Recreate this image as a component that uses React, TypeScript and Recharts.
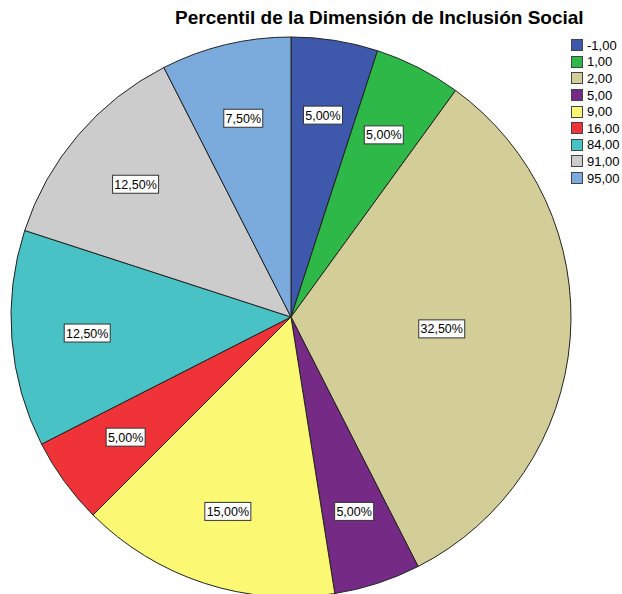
import { PieChart, Pie, Cell, Legend } from "recharts";

const categories = ["-1,00", "1,00", "2,00", "5,00", "9,00", "16,00", "84,00", "91,00", "95,00"];
const percents = [5, 5, 32.5, 5, 15, 5, 12.5, 12.5, 7.5];
const colors = ["#3E58AC", "#2EB848", "#D3CE97", "#752A86", "#FBF873", "#EF3338", "#48C2C5", "#CCCCCC", "#7BAADC"];

const data = categories.map((name, i) => ({ name, value: percents[i] }));

const fmt = (v: number) => v.toFixed(2).replace(".", ",") + "%";

const RADIAN = Math.PI / 180;

function SliceLabel(props: any) {
  const { cx, cy, midAngle, outerRadius, value, percent } = props;
  const r = outerRadius * (percent > 0.3 ? 0.54 : 0.73);
  const x = cx + r * Math.cos(-midAngle * RADIAN);
  const y = cy + r * Math.sin(-midAngle * RADIAN);
  const text = fmt(value);
  const w = text.length * 7 + 4;
  return (
    <g>
      <rect x={x - w / 2} y={y - 9} width={w} height={18} fill="#fff" stroke="#333" strokeWidth={1} />
      <text x={x} y={y + 4.5} textAnchor="middle" fontSize={12.5} fill="#000" fontFamily="Liberation Sans, Arial, sans-serif">
        {text}
      </text>
    </g>
  );
}

function LegendBox() {
  return (
    <div style={{ fontFamily: "Liberation Sans, Arial, sans-serif", fontSize: 13, color: "#000" }}>
      {categories.map((c, i) => (
        <div key={c} style={{ display: "flex", alignItems: "center", height: 16.6 }}>
          <span style={{ display: "inline-block", width: 10, height: 10, background: colors[i], border: "1px solid #444", marginRight: 4 }} />
          <span>{c}</span>
        </div>
      ))}
    </div>
  );
}

export default function App() {
  return (
    <div style={{ position: "absolute", left: 0, top: 0, width: 622, height: 594, background: "#fff", overflow: "hidden" }}>
      <div style={{ position: "absolute", left: 175, top: 7, width: 440, fontFamily: "Liberation Sans, Arial, sans-serif", fontWeight: "bold", fontSize: 19, color: "#000", whiteSpace: "nowrap" }}>
        Percentil de la Dimensión de Inclusión Social
      </div>
      <PieChart width={622} height={594} margin={{ top: 0, right: 0, bottom: 0, left: 0 }}>
        <Pie
          data={data}
          dataKey="value"
          nameKey="name"
          cx={291}
          cy={317}
          outerRadius={280}
          startAngle={90}
          endAngle={-270}
          stroke="#222"
          strokeWidth={1}
          label={SliceLabel}
          labelLine={false}
          isAnimationActive={false}
        >
          {data.map((d, i) => (
            <Cell key={d.name} fill={colors[i]} />
          ))}
        </Pie>
        <Legend content={LegendBox} wrapperStyle={{ position: "absolute", left: 571, top: 37, width: 51 }} />
      </PieChart>
    </div>
  );
}
